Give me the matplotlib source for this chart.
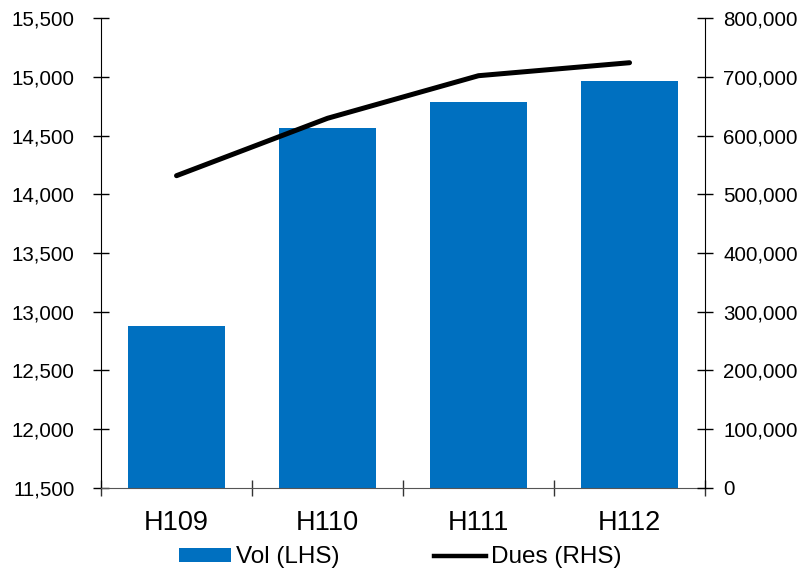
import matplotlib.pyplot as plt
import matplotlib.ticker as mticker
from matplotlib.lines import Line2D
from matplotlib.patches import Patch

plt.rcParams['font.family'] = ['Liberation Sans', 'DejaVu Sans']

# Half-year volume (left axis) and dues (right axis)
periods = ['H109', 'H110', 'H111', 'H112']
vol = [12880, 14566, 14782, 14961]
dues = [531600, 629300, 701800, 723900]

bar_colour = '#0070C0'

fig = plt.figure(figsize=(8.05, 5.70), dpi=100)
ax = fig.add_axes([0.1255, 0.1439, 0.7503, 0.8245])
ax2 = ax.twinx()

x = list(range(len(periods)))
ax.bar(x, [v - 11500 for v in vol], bottom=11500, width=0.64, color=bar_colour, zorder=2)
ax2.plot(x, dues, color='black', lw=3.6, solid_capstyle='round', zorder=3)

ax.set_xlim(-0.5, 3.5)
ax.set_ylim(11500, 15500)
ax2.set_ylim(0, 800000)

ax.yaxis.set_major_locator(mticker.MultipleLocator(500))
ax2.yaxis.set_major_locator(mticker.MultipleLocator(100000))
ax.yaxis.set_major_formatter(mticker.FuncFormatter(lambda v, p: f'{v:,.0f}'))
ax2.yaxis.set_major_formatter(mticker.FuncFormatter(lambda v, p: f'{v:,.0f}'))

ax.set_xticks(x)
ax.set_xticklabels(periods, fontsize=19.5)
ax.set_xticks([-0.5, 0.5, 1.5, 2.5, 3.5], minor=True)
ax.tick_params(axis='x', which='major', length=0, pad=15.5)
ax.tick_params(axis='x', which='minor', direction='inout', length=12, width=1, color='#333333')
ax.tick_params(axis='y', direction='inout', length=12, width=1, labelsize=14.8, pad=13)
ax2.tick_params(axis='y', direction='inout', length=12, width=1, labelsize=14.8, pad=7)

for a in (ax, ax2):
    a.spines['top'].set_visible(False)
ax2.spines['left'].set_visible(False)
ax2.spines['bottom'].set_visible(False)
ax.spines['right'].set_visible(False)
ax.spines['bottom'].set_color('#555555')

handles = [Patch(facecolor=bar_colour, edgecolor='none', label='Vol (LHS)'),
           Line2D([0], [0], color='black', lw=3.2, label='Dues (RHS)')]
fig.legend(handles=handles, loc='center', ncol=2, frameon=False,
           fontsize=17.5, bbox_to_anchor=(0.497, 0.022), handlelength=2.14,
           handletextpad=0.2, columnspacing=3.9, handleheight=0.49,
           borderpad=0, borderaxespad=0)

fig.savefig('out.png', dpi=100)
